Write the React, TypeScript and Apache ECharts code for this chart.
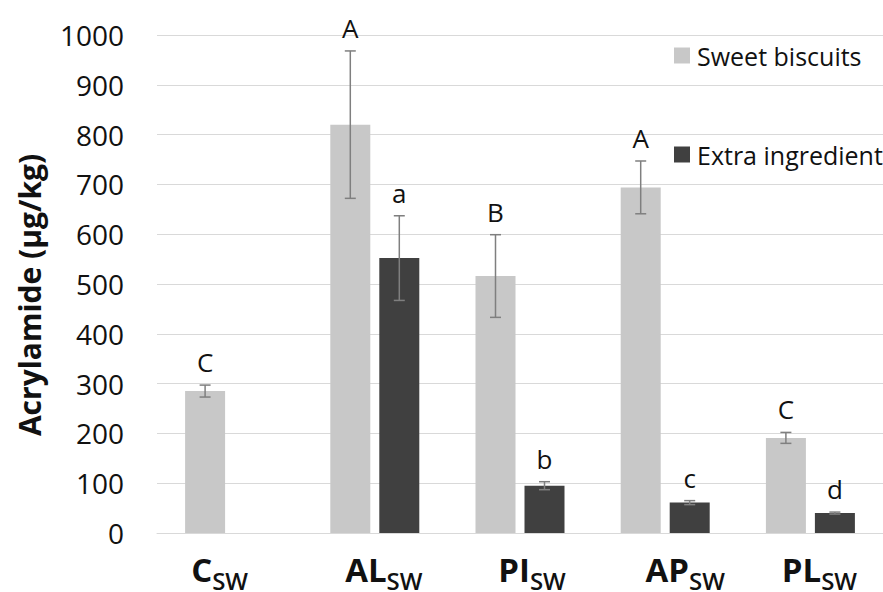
import React, { useEffect, useRef } from "react";
import * as echarts from "echarts";

const categories = ["C", "AL", "PI", "AP", "PL"];
const subscript = "SW";
const seriesNames = ["Sweet biscuits", "Extra ingredient"];
const sweetValues = [285, 820, 516, 694, 191];
const sweetErrors = [12, 148, 83, 53, 11];
const sweetLetters = ["C", "A", "B", "A", "C"];
const extraValues: (number | null)[] = [null, 552, 95, 61, 40];
const extraErrors: (number | null)[] = [null, 85, 8, 4, 2];
const extraLetters = ["", "a", "b", "c", "d"];
const yTicks = { min: 0, max: 1000, interval: 100 };
const yTitle = "Acrylamide (µg/kg)";

// label horizontal nudges (styling only)
const labelNudge = [-10, 9, 12, 20, 9];

const FONT = "'Open Sans', sans-serif";
const LIGHT = "#c8c8c8";
const DARK = "#404040";
const ERR = "#7f7f7f";
const BAR_W = 40;
const HALF_OFF = 24.5;

function errorSeries(
  id: string,
  values: (number | null)[],
  errs: (number | null)[],
  letters: string[],
  offset: number
) {
  const idx: number[] = [];
  const data: number[][] = [];
  values.forEach((v, i) => {
    if (v == null) return;
    const e = errs[i] ?? 0;
    idx.push(i);
    data.push([i, v - e, v + e]);
  });
  return {
    type: "custom",
    id,
    name: id,
    z: 10,
    silent: true,
    data,
    encode: { x: 0, y: [1, 2] },
    renderItem: (params: any, api: any) => {
      const c = api.value(0);
      const lo = api.coord([c, api.value(1)]);
      const hi = api.coord([c, api.value(2)]);
      const x = lo[0] + offset;
      const cap = 5.5;
      const letter = letters[idx[params.dataIndex]];
      return {
        type: "group",
        children: [
          {
            type: "line",
            shape: { x1: x, y1: lo[1], x2: x, y2: hi[1] },
            style: { stroke: ERR, lineWidth: 1.5 },
          },
          {
            type: "line",
            shape: { x1: x - cap, y1: lo[1], x2: x + cap, y2: lo[1] },
            style: { stroke: ERR, lineWidth: 1.5 },
          },
          {
            type: "line",
            shape: { x1: x - cap, y1: hi[1], x2: x + cap, y2: hi[1] },
            style: { stroke: ERR, lineWidth: 1.5 },
          },
          {
            type: "text",
            x: x,
            y: hi[1] - 10,
            style: {
              text: letter,
              fill: "#111",
              fontSize: 26,
              fontFamily: FONT,
              textAlign: "center",
              textVerticalAlign: "bottom",
              align: "center",
              verticalAlign: "bottom",
            },
          },
        ],
      };
    },
  };
}

export default function App() {
  const ref = useRef<HTMLDivElement>(null);
  useEffect(() => {
    if (!ref.current) return;
    const chart = echarts.init(ref.current, null, { renderer: "svg" });
    const xData = categories.map((c, i) => {
      const n = labelNudge[i];
      return {
        value: c,
        textStyle: {
          padding: n >= 0 ? [0, 0, 0, 2 * n] : [0, -2 * n, 0, 0],
        },
      };
    });
    const legendBase = {
      left: 674,
      padding: 0,
      itemWidth: 16,
      itemHeight: 16,
      icon: "rect",
      selectedMode: false,
      textStyle: {
        fontSize: 25,
        color: "#111",
        fontFamily: FONT,
        padding: [0, 0, 0, 2],
      },
    };
    chart.setOption({
      animation: false,
      backgroundColor: "#ffffff",
      textStyle: { fontFamily: FONT },
      grid: { left: 157, top: 35, width: 736, height: 499 },
      legend: [
        { ...legendBase, data: [seriesNames[0]], top: 43 },
        { ...legendBase, data: [seriesNames[1]], top: 142 },
      ],
      xAxis: {
        type: "category",
        data: xData,
        axisTick: { show: false },
        axisLine: { lineStyle: { color: "#d9d9d9", width: 1 } },
        axisLabel: {
          interval: 0,
          margin: 20,
          formatter: (v: string) => `{m|${v}}{s|${subscript}}`,
          rich: {
            m: {
              fontSize: 33,
              fontWeight: "bold",
              fontFamily: FONT,
              color: "#111",
              lineHeight: 33,
              verticalAlign: "top",
            },
            s: {
              fontSize: 24,
              fontWeight: 600,
              fontFamily: FONT,
              color: "#111",
              lineHeight: 20,
              padding: [15, 0, 0, 0],
              verticalAlign: "top",
            },
          },
        },
      },
      yAxis: {
        type: "value",
        min: yTicks.min,
        max: yTicks.max,
        interval: yTicks.interval,
        axisLine: { show: false },
        axisTick: { show: false },
        splitLine: { lineStyle: { color: "#d9d9d9", width: 1 } },
        axisLabel: {
          fontSize: 28,
          color: "#111",
          margin: 33,
          fontFamily: FONT,
          formatter: (v: number) => String(v),
        },
      },
      graphic: [
        {
          type: "text",
          x: 29,
          y: 295,
          rotation: Math.PI / 2,
          style: {
            text: yTitle,
            fontSize: 30,
            fontWeight: "bold",
            fontFamily: FONT,
            fill: "#111",
            textAlign: "center",
            textVerticalAlign: "middle",
            align: "center",
            verticalAlign: "middle",
          },
        },
      ],
      series: [
        {
          type: "bar",
          name: seriesNames[0],
          data: sweetValues,
          barWidth: BAR_W,
          barGap: "22.5%",
          itemStyle: { color: LIGHT },
        },
        {
          type: "bar",
          name: seriesNames[1],
          data: extraValues.map((v) => (v == null ? "-" : v)),
          barWidth: BAR_W,
          barGap: "22.5%",
          itemStyle: { color: DARK },
        },
        errorSeries("err-sweet", sweetValues, sweetErrors, sweetLetters, -HALF_OFF),
        errorSeries("err-extra", extraValues, extraErrors, extraLetters, HALF_OFF),
      ],
    });
    return () => chart.dispose();
  }, []);
  return (
    <div
      ref={ref}
      style={{ position: "absolute", left: 0, top: 0, width: 883, height: 592 }}
    />
  );
}
